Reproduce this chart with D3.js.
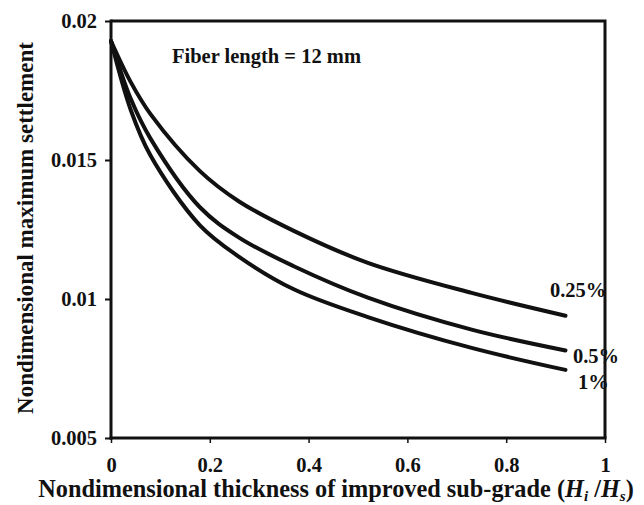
<!DOCTYPE html>
<html>
<head>
<meta charset="utf-8">
<script src="https://cdn.jsdelivr.net/npm/d3@7"></script>
<style>
  html, body { margin: 0; padding: 0; background: #fff; }
  svg { display: block; font-family: "Liberation Serif", "Times New Roman", serif; font-weight: bold; }
</style>
</head>
<body>
<svg id="chart" width="644" height="505"></svg>
<script>
// Nondimensional thickness of the improved layer (Hi/Hs)
const thickness = [0, 0.04, 0.08, 0.18, 0.26, 0.37, 0.52, 0.73, 0.92];
// Nondimensional maximum settlement for each fiber content
const settle025 = [0.01928, 0.0178, 0.01665, 0.0146, 0.0135, 0.01245, 0.0113, 0.01022, 0.0094];
const settle05  = [0.01928, 0.0172, 0.01577, 0.0133, 0.0122, 0.01118, 0.01005, 0.0089, 0.00815];
const settle1   = [0.01928, 0.0168, 0.01516, 0.01265, 0.01151, 0.01035, 0.00935, 0.00824, 0.00745];
const seriesNames = ["0.25%", "0.5%", "1%"];
const xTicks = [0, 0.2, 0.4, 0.6, 0.8, 1];
const xTickLabels = ["0", "0.2", "0.4", "0.6", "0.8", "1"];
const yTicks = [0.005, 0.01, 0.015, 0.02];
const yTickLabels = ["0.005", "0.01", "0.015", "0.02"];

const svg = d3.select("#chart");
const plotLeft = 111, plotRight = 605, plotTop = 21, plotBottom = 438;
const ink = "#111";

const x = d3.scaleLinear().domain([0, 1]).range([plotLeft, plotRight]);
const y = d3.scaleLinear().domain([0.005, 0.02]).range([plotBottom, plotTop]);

// frame (top and right sides)
svg.append("path")
  .attr("d", `M${plotLeft},${plotTop}H${plotRight}V${plotBottom}`)
  .attr("fill", "none").attr("stroke", ink).attr("stroke-width", 3);

// x axis
const xAxis = svg.append("g")
  .attr("transform", `translate(0,${plotBottom})`)
  .call(d3.axisBottom(x).tickValues(xTicks).tickFormat((d, i) => xTickLabels[i]).tickSize(5).tickPadding(14));
xAxis.select(".domain").attr("stroke", ink).attr("stroke-width", 3).attr("d", `M${plotLeft - 1.5},0H${plotRight + 1.5}`);
xAxis.selectAll(".tick line").attr("stroke", ink).attr("stroke-width", 1.5);
xAxis.selectAll(".tick text")
  .attr("font-family", "Liberation Serif, serif").attr("font-weight", "bold")
  .attr("font-size", 20.5).attr("fill", ink);

// y axis
const yAxis = svg.append("g")
  .attr("transform", `translate(${plotLeft},0)`)
  .call(d3.axisLeft(y).tickValues(yTicks).tickFormat((d, i) => yTickLabels[i]).tickSize(6).tickPadding(8));
yAxis.select(".domain").attr("stroke", ink).attr("stroke-width", 3).attr("d", `M0,${plotBottom + 1.5}V${plotTop - 1.5}`);
yAxis.selectAll(".tick line").attr("stroke", ink).attr("stroke-width", 2);
yAxis.selectAll(".tick text")
  .attr("font-family", "Liberation Serif, serif").attr("font-weight", "bold")
  .attr("font-size", 20.5).attr("fill", ink);

// curves
const series = [settle025, settle05, settle1];
const line = d3.line()
  .x((d, i) => x(thickness[i]))
  .y(d => y(d))
  .curve(d3.curveCatmullRom.alpha(0.5));

svg.append("g").selectAll("path")
  .data(series)
  .join("path")
  .attr("d", d => line(d))
  .attr("fill", "none")
  .attr("stroke", ink)
  .attr("stroke-width", 4)
  .attr("stroke-linecap", "round");

// series labels at line ends
const last = thickness.length - 1;
const labelOffsets = [[-15.5, -19], [7.5, 12.5], [12.5, 19]];
svg.append("g").selectAll("text")
  .data(series)
  .join("text")
  .attr("x", (d, i) => x(thickness[last]) + labelOffsets[i][0])
  .attr("y", (d, i) => y(d[last]) + labelOffsets[i][1])
  .attr("font-size", 20.5)
  .attr("fill", ink)
  .text((d, i) => seriesNames[i]);

// annotation
svg.append("text")
  .attr("x", 172).attr("y", 63)
  .attr("font-size", 20.5).attr("fill", ink)
  .text("Fiber length = 12 mm");

// axis titles
svg.append("text")
  .attr("transform", `translate(33,228) rotate(-90)`)
  .attr("text-anchor", "middle")
  .attr("font-size", 23).attr("fill", ink)
  .text("Nondimensional maximum settlement");

const xt = svg.append("text")
  .attr("x", 336).attr("y", 497)
  .attr("text-anchor", "middle")
  .attr("font-size", 24.3).attr("fill", ink);
xt.append("tspan").text("Nondimensional thickness of improved sub-grade (");
xt.append("tspan").attr("font-style", "italic").text("H");
xt.append("tspan").attr("font-style", "italic").attr("font-size", 15).attr("dy", 4).text("i");
xt.append("tspan").attr("dy", -4).text(" /");
xt.append("tspan").attr("font-style", "italic").text("H");
xt.append("tspan").attr("font-style", "italic").attr("font-size", 15).attr("dy", 4).text("s");
xt.append("tspan").attr("dy", -4).text(")");
</script>
</body>
</html>
